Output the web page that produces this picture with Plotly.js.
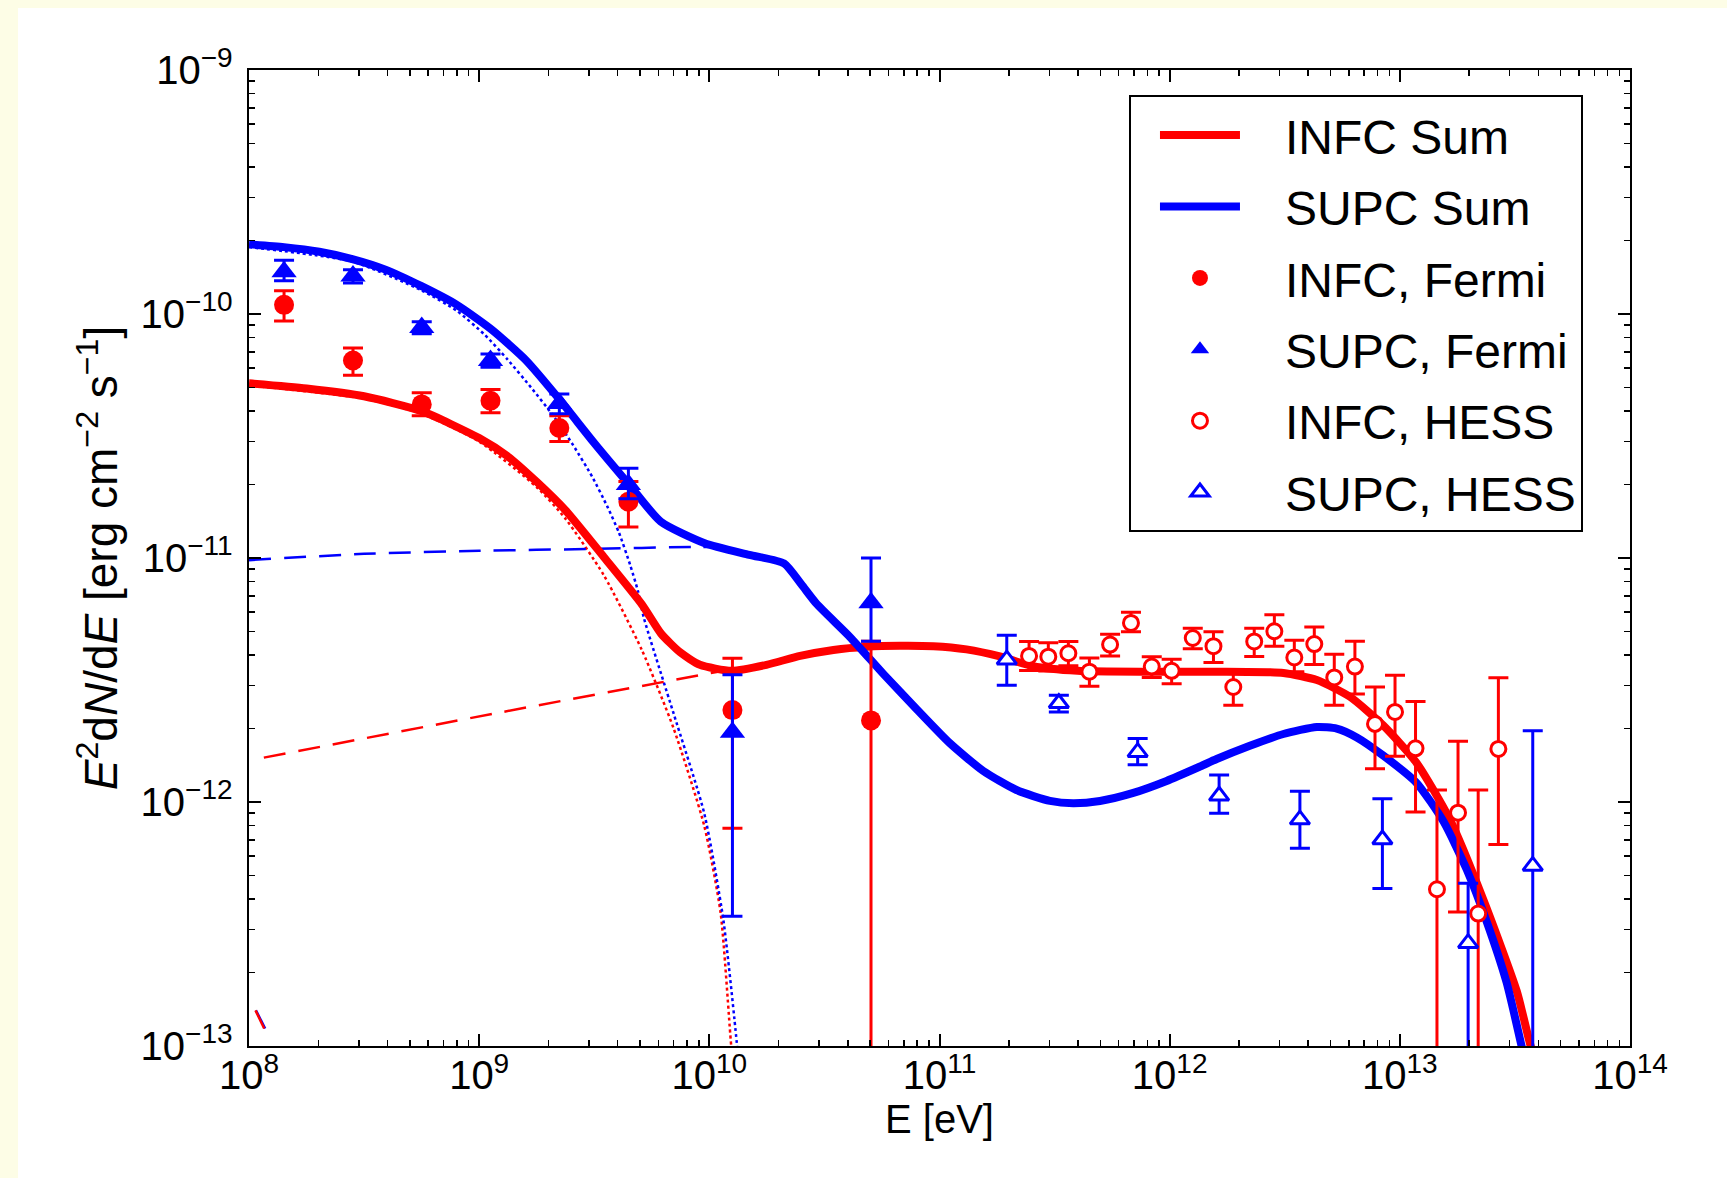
<!DOCTYPE html>
<html>
<head>
<meta charset="utf-8">
<script src="https://cdn.plot.ly/plotly-3.0.1.min.js"></script>
<style>
  html, body { margin: 0; padding: 0; background: #fdfde6; }
  #sed { position: absolute; left: 18px; top: 8px; width: 1709px; height: 1170px; background: #ffffff; }
</style>
</head>
<body>
<div id="sed"></div>
<script>
// ---------- model curves: photon energy E [eV] and E^2 dN/dE [erg cm^-2 s^-1] ----------
const infcSumE = [1e8, 1.78e8, 3.16e8, 5.62e8, 1e9, 1.33e9, 1.78e9, 2.37e9, 3.48e9, 5.09e9, 6.17e9, 7.48e9, 9.10e9,
  1.25e10, 1.77e10, 2.48e10, 3.46e10, 4.83e10, 6.73e10, 9.40e10, 1.31e11, 1.83e11, 2.55e11, 3.98e11, 7.94e11,
  1.58e12, 3.12e12, 4.36e12, 6.07e12, 8.47e12, 1.18e13, 1.65e13, 2.31e13, 3.22e13, 3.67e13, 3.98e13];
const infcSumF = [5.2e-11, 4.95e-11, 4.6e-11, 4.0e-11, 3.1e-11, 2.61e-11, 2.05e-11, 1.57e-11, 1.01e-11, 6.46e-12, 4.9e-12, 4.1e-12, 3.65e-12,
  3.45e-12, 3.65e-12, 3.97e-12, 4.2e-12, 4.33e-12, 4.37e-12, 4.35e-12, 4.22e-12, 3.95e-12, 3.6e-12, 3.45e-12, 3.42e-12,
  3.42e-12, 3.38e-12, 3.16e-12, 2.70e-12, 2.06e-12, 1.45e-12, 8.47e-13, 3.96e-13, 1.68e-13, 1.03e-13, 8e-14];

const supcSumE = [1e8, 1.42e8, 2.02e8, 2.81e8, 3.92e8, 5.62e8, 8.0e8, 1.13e9, 1.60e9, 2.23e9, 3.18e9, 4.48e9, 6.15e9,
  9.55e9, 1.49e10, 2.11e10, 2.51e10, 2.92e10, 4.08e10, 5.70e10, 7.96e10, 1.11e11, 1.55e11, 2.16e11, 3.02e11, 3.81e11,
  4.98e11, 6.95e11, 9.70e11, 1.36e12, 1.60e12, 2.23e12, 3.12e12, 4.36e12, 5.32e12, 6.50e12, 8.47e12, 1.18e13,
  1.55e13, 1.95e13, 2.38e13, 2.91e13, 3.38e13, 3.63e13];
const supcSumF = [1.93e-10, 1.88e-10, 1.80e-10, 1.68e-10, 1.52e-10, 1.30e-10, 1.09e-10, 8.65e-11, 6.45e-11, 4.47e-11, 2.94e-11, 2.00e-11, 1.41e-11,
  1.15e-11, 1.03e-11, 9.5e-12, 7.8e-12, 6.5e-12, 4.75e-12, 3.35e-12, 2.40e-12, 1.74e-12, 1.34e-12, 1.12e-12, 1.01e-12, 9.88e-13,
  1.01e-12, 1.09e-12, 1.22e-12, 1.40e-12, 1.50e-12, 1.70e-12, 1.90e-12, 2.03e-12, 2.0e-12, 1.84e-12, 1.55e-12, 1.20e-12,
  8.3e-13, 5.3e-13, 3.25e-13, 1.82e-13, 1.0e-13, 7.5e-14];

// low-energy (dotted) components
const infcDotE = [1e8, 3.16e8, 5.62e8, 1e9, 1.78e9, 2.37e9, 3.48e9, 5.09e9, 7.0e9, 9.5e9, 1.12e10, 1.245e10, 1.3e10];
const infcDotF = [5.1e-11, 4.5e-11, 3.9e-11, 3.0e-11, 1.95e-11, 1.45e-11, 8.5e-12, 4.2e-12, 2.0e-12, 8e-13, 3.5e-13, 1.0e-13, 7e-14];
const supcDotE = [1e8, 2.81e8, 5.62e8, 8.0e8, 1.06e9, 1.33e9, 1.68e9, 2.11e9, 2.56e9, 3.10e9, 3.61e9, 4.05e9, 4.54e9,
  4.9e9, 5.19e9, 7.0e9, 9.5e9, 1.15e10, 1.32e10, 1.36e10];
const supcDotF = [1.88e-10, 1.64e-10, 1.25e-10, 1.03e-10, 8.2e-11, 6.5e-11, 5.0e-11, 3.8e-11, 2.9e-11, 2.15e-11, 1.62e-11, 1.27e-11, 9.3e-12,
  7.3e-12, 5.7e-12, 2.3e-12, 9e-13, 3.3e-13, 1.0e-13, 7e-14];

// hard (dashed) components
const infcDashE = [1.16e8, 1.18e9, 1.19e10];
const infcDashF = [1.52e-12, 2.31e-12, 3.47e-12];
const supcDashE = [1e8, 3.16e8, 1e9, 3.16e9, 8.4e9, 1.32e10];
const supcDashF = [9.8e-12, 1.04e-11, 1.07e-11, 1.09e-11, 1.11e-11, 1.11e-11];

// steep components entering at the lower-left corner
const infcLowE = [1.067e8, 1.164e8];
const infcLowF = [1.40e-13, 1.18e-13];
const supcLowE = [1.072e8, 1.175e8];
const supcLowF = [1.40e-13, 1.18e-13];

// ---------- measured points ----------
const fermiE = [1.42e8, 2.83e8, 5.63e8, 1.12e9, 2.23e9, 4.45e9, 1.26e10, 5.04e10];

const infcFermiF = [1.09e-10, 6.45e-11, 4.26e-11, 4.41e-11, 3.41e-11, 1.70e-11, 2.38e-12, 2.16e-12];
const infcFermiUp = [1.55e-11, 8.1e-12, 5.0e-12, 5.0e-12, 4.2e-12, 3.6e-12, 1.5e-12, 2.4e-12];
const infcFermiDn = [1.55e-11, 8.4e-12, 4.3e-12, 4.7e-12, 4.1e-12, 3.6e-12, 1.6e-12, 2.4e-12];

const supcFermiF = [1.49e-10, 1.43e-10, 8.8e-11, 6.45e-11, 4.3e-11, 2.0e-11, 1.93e-12, 6.56e-12];
const supcFermiUp = [1.7e-11, 9e-12, 5e-12, 4e-12, 4e-12, 3.3e-12, 1.39e-12, 3.44e-12];
const supcFermiDn = [1.2e-11, 9e-12, 5e-12, 4e-12, 4e-12, 2.5e-12, 1.59e-12, 2.0e-12];

const infcHessE = [2.45e11, 2.97e11, 3.63e11, 4.48e11, 5.51e11, 6.79e11, 8.36e11, 1.02e12, 1.26e12, 1.55e12, 1.89e12, 2.33e12,
  2.85e12, 3.48e12, 4.25e12, 5.19e12, 6.38e12, 7.80e12, 9.53e12, 1.17e13, 1.45e13, 1.79e13, 2.19e13, 2.68e13];
const infcHessF = [3.97e-12, 3.94e-12, 4.07e-12, 3.42e-12, 4.42e-12, 5.42e-12, 3.59e-12, 3.45e-12, 4.70e-12, 4.35e-12, 2.96e-12, 4.55e-12,
  5.01e-12, 3.91e-12, 4.44e-12, 3.24e-12, 3.59e-12, 2.09e-12, 2.34e-12, 1.66e-12, 4.39e-13, 9.04e-13, 3.49e-13, 1.65e-12];
const infcHessUp = [5.8e-13, 5.5e-13, 4.8e-13, 4.7e-13, 4.5e-13, 5.7e-13, 3.5e-13, 4e-13, 4.5e-13, 6.4e-13, 4.9e-13, 6e-13,
  8.5e-13, 6.9e-13, 7.8e-13, 7.9e-13, 9.7e-13, 8.7e-13, 9.7e-13, 9.2e-13, 6.8e-13, 8.7e-13, 7.7e-13, 1.58e-12];
const infcHessDn = [5.1e-13, 5e-13, 4.5e-13, 4.4e-13, 4.5e-13, 4.3e-13, 3.5e-13, 4e-13, 4.5e-13, 6.2e-13, 4.7e-13, 6e-13,
  6.6e-13, 4.9e-13, 7.8e-13, 7.5e-13, 8.2e-13, 7.2e-13, 8e-13, 7.5e-13, 6.8e-13, 5.5e-13, 7.7e-13, 9.8e-13];

const supcHessE = [1.96e11, 3.30e11, 7.26e11, 1.64e12, 3.68e12, 8.40e12, 1.98e13, 3.78e13];
const supcHessF = [3.83e-12, 2.54e-12, 1.60e-12, 1.06e-12, 8.47e-13, 7.02e-13, 2.64e-13, 5.47e-13];
const supcHessUp = [9.9e-13, 2e-13, 2.2e-13, 2.3e-13, 2.6e-13, 3.3e-13, 2.0e-13, 1.41e-12];
const supcHessDn = [8.2e-13, 2e-13, 1.8e-13, 1.6e-13, 2.0e-13, 2.6e-13, 2.0e-13, 1.41e-12];

// ---------- styling ----------
const RED = '#ff0000', BLUE = '#0000ff';
const FONT = 'Liberation Sans, Arial, Helvetica, sans-serif';
const PAD = '\u00a0\u00a0\u00a0';   // gap between legend symbol and label

function curve(E, F, color, width, dash, name, rank) {
  return {
    x: E, y: F, type: 'scatter', mode: 'lines', name: name ? PAD + name : '',
    showlegend: !!name, legendrank: rank || 1000, legendgroup: name ? 'g' + rank : undefined,
    line: { color: color, width: width, dash: dash || 'solid', shape: 'spline', smoothing: 0.6 },
    hoverinfo: 'skip'
  };
}

function points(E, F, up, dn, color, symbol, size, filled, name, rank) {
  return {
    x: E, y: F, type: 'scatter', mode: 'markers', name: PAD + name,
    legendrank: rank, legendgroup: 'g' + rank,
    marker: filled
      ? { symbol: symbol, size: size, color: color, line: { width: 0 } }
      : { symbol: symbol, size: size, color: '#ffffff', line: { color: color, width: 3 } },
    error_y: { type: 'data', symmetric: false, array: up, arrayminus: dn, color: color, thickness: 3, width: 10 }
  };
}

const data = [
  curve(infcDotE, infcDotF, RED, 2.5, 'dot'),
  curve(supcDotE, supcDotF, BLUE, 2.5, 'dot'),
  curve(infcDashE, infcDashF, RED, 2.5, '22px,13px'),
  curve(supcDashE, supcDashF, BLUE, 2.5, '22px,13px'),
  curve(supcLowE, supcLowF, BLUE, 2.5, '22px,13px'),
  curve(infcLowE, infcLowF, RED, 2.5, '22px,13px'),
  curve(infcSumE, infcSumF, RED, 8, 'solid', 'INFC Sum', 1),
  curve(supcSumE, supcSumF, BLUE, 8, 'solid', 'SUPC Sum', 2),
  points(fermiE, infcFermiF, infcFermiUp, infcFermiDn, RED, 'circle', 20, true, 'INFC, Fermi', 3),
  points(fermiE, supcFermiF, supcFermiUp, supcFermiDn, BLUE, 'triangle-up', 22, true, 'SUPC, Fermi', 4),
  points(infcHessE, infcHessF, infcHessUp, infcHessDn, RED, 'circle', 15, false, 'INFC, HESS', 5),
  points(supcHessE, supcHessF, supcHessUp, supcHessDn, BLUE, 'triangle-up', 17, false, 'SUPC, HESS', 6)
];

const axisCommon = {
  type: 'log', dtick: 1, exponentformat: 'power', showexponent: 'all',
  showline: true, linecolor: '#000', linewidth: 2, mirror: 'allticks',
  ticks: 'inside', ticklen: 12, tickwidth: 2, tickcolor: '#000',
  minor: { ticks: 'inside', ticklen: 6, tickwidth: 1.5, tickcolor: '#000', dtick: 'D1', showgrid: false },
  showgrid: false, zeroline: false, automargin: false,
  tickfont: { family: FONT, size: 32, color: '#000' }
};

const layout = {
  width: 1709, height: 1170,
  margin: { l: 231, r: 97, t: 62, b: 132 },
  paper_bgcolor: '#ffffff', plot_bgcolor: '#ffffff',
  font: { family: FONT, color: '#000' },
  showlegend: true,
  xaxis: Object.assign({}, axisCommon, {
    range: [8, 14],
    ticklabelstandoff: -5,
    title: { text: 'E [eV]', font: { family: FONT, size: 40, color: '#000' }, standoff: 3 }
  }),
  yaxis: Object.assign({}, axisCommon, {
    range: [-13, -9],
    ticklabelstandoff: 8,
    title: {
      text: '<i>E</i><sup>2</sup>d<i>N</i>/d<i>E</i> [erg cm<sup>−2</sup> s<sup>−1</sup>]',
      font: { family: FONT, size: 46, color: '#000' }, standoff: 8
    }
  }),
  legend: {
    x: 0.6372, y: 0.974, xanchor: 'left', yanchor: 'top',
    bgcolor: '#ffffff', bordercolor: '#000', borderwidth: 2,
    font: { family: FONT, size: 48, color: '#000' },
    indentation: 24, itemwidth: 80, tracegroupgap: 6, traceorder: 'grouped',
    itemclick: false, itemdoubleclick: false
  }
};

Plotly.newPlot('sed', data, layout, { displayModeBar: false, staticPlot: true });
</script>
</body>
</html>
